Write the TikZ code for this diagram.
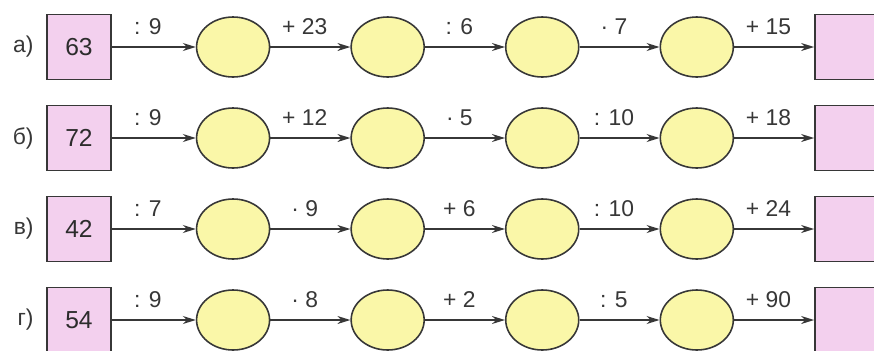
\documentclass[tikz,border=0pt]{standalone}
\usepackage{fontspec}
\setmainfont{Liberation Sans}
\usetikzlibrary{positioning, shapes.geometric, arrows.meta}
\definecolor{boxpink}{RGB}{243,208,238}
\definecolor{ovalyellow}{RGB}{250,247,168}
\definecolor{inkgray}{RGB}{55,55,55}
\tikzset{
    numbox/.style={draw=inkgray, line width=0.9pt, fill=boxpink, minimum width=1.28cm, minimum height=1.3cm, font=\fontsize{14}{16}\selectfont, text=inkgray!80!black},
    oval/.style={ellipse, draw=inkgray, line width=0.9pt, fill=ovalyellow, minimum width=1.46cm, minimum height=1.2cm, inner sep=0pt},
    arrow/.style={-{Stealth[length=2.6mm, width=1.6mm]}, draw=inkgray, line width=0.8pt},
    oplabel/.style={pos=0.43, anchor=base, yshift=7pt, font=\fontsize{13}{15}\selectfont, text=inkgray}
}

\begin{document}
\begin{tikzpicture}[node distance=1.6cm]
\useasboundingbox (0,0) rectangle (17.48,7);
\foreach \lab/\num/\opa/\opb/\opc/\opd/\ope [count=\i] in {
    а)/63/{: 9}/{+ 23}/{: 6}/{· 7}/{+ 15},
    б)/72/{: 9}/{+ 12}/{· 5}/{: 10}/{+ 18},
    в)/42/{: 7}/{· 9}/{+ 6}/{: 10}/{+ 24},
    г)/54/{: 9}/{· 8}/{+ 2}/{: 5}/{+ 90}} {
  \node[numbox] (s\i) at (1.58,{6.06-1.82*(\i-1)}) {\num};
  \node[left=0.13cm of s\i, font=\fontsize{13}{15}\selectfont, text=inkgray] (l\i) {\lab};
  \node[oval, right=1.68cm of s\i] (a\i) {};
  \node[oval, right=of a\i] (b\i) {};
  \node[oval, right=of b\i] (c\i) {};
  \node[oval, right=of c\i] (d\i) {};
  \node[numbox, right=of d\i] (e\i) {};
  \draw[arrow] (s\i) -- node[oplabel] {\opa} (a\i);
  \draw[arrow] (a\i) -- node[oplabel] {\opb} (b\i);
  \draw[arrow] (b\i) -- node[oplabel] {\opc} (c\i);
  \draw[arrow] (c\i) -- node[oplabel] {\opd} (d\i);
  \draw[arrow] (d\i) -- node[oplabel] {\ope} (e\i);
}
\end{tikzpicture}
\end{document}
